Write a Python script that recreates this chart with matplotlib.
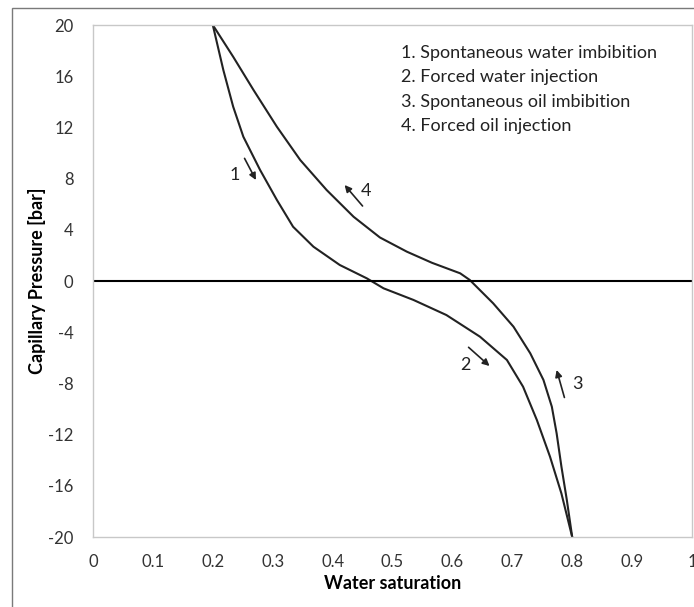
import matplotlib
matplotlib.use("Agg")
import matplotlib.pyplot as plt
from matplotlib.patches import Rectangle

plt.rcParams['font.family'] = ['Lato', 'DejaVu Sans']
plt.rcParams['axes.unicode_minus'] = False

# Curve 1-2: spontaneous water imbibition -> forced water injection
sw_water = [0.200, 0.2176, 0.234, 0.251, 0.279, 0.307, 0.334, 0.368, 0.412, 0.457,
            0.485, 0.535, 0.590, 0.646, 0.691, 0.718, 0.741, 0.763, 0.782, 0.800]
pc_water = [20.0, 16.48, 13.62, 11.27, 8.67, 6.33, 4.24, 2.68, 1.25, 0.21,
            -0.57, -1.48, -2.66, -4.35, -6.17, -8.26, -10.86, -13.73, -16.6, -20.0]

# Curve 3-4: spontaneous oil imbibition -> forced oil injection
sw_oil = [0.200, 0.234, 0.268, 0.307, 0.346, 0.390, 0.435, 0.479, 0.524, 0.566,
          0.613, 0.629, 0.668, 0.702, 0.730, 0.752, 0.766, 0.774, 0.782, 0.791, 0.800]
pc_oil = [20.0, 17.52, 14.92, 12.05, 9.45, 7.11, 5.02, 3.40, 2.29, 1.42,
          0.60, 0.08, -1.74, -3.57, -5.65, -7.73, -9.82, -11.9, -14.5, -17.1, -20.0]

x_ticks = [0, 0.1, 0.2, 0.3, 0.4, 0.5, 0.6, 0.7, 0.8, 0.9, 1]
x_tick_labels = ['0', '0.1', '0.2', '0.3', '0.4', '0.5', '0.6', '0.7', '0.8', '0.9', '1']
y_ticks = [20, 16, 12, 8, 4, 0, -4, -8, -12, -16, -20]

legend_lines = ['1. Spontaneous water imbibition', '2. Forced water injection',
                '3. Spontaneous oil imbibition', '4. Forced oil injection']

# arrows: (label, label_x, label_y, tail_x, tail_y, tip_x, tip_y)
arrows = [('1', 0.237, 8.3, 0.253, 9.58, 0.272, 7.89),
          ('4', 0.455, 7.0, 0.450, 5.86, 0.420, 7.5),
          ('2', 0.621, -6.6, 0.627, -5.18, 0.662, -6.64),
          ('3', 0.808, -8.05, 0.787, -9.1, 0.774, -6.95)]

W, H = 694, 607
fig = plt.figure(figsize=(W / 100, H / 100), dpi=100)
ax = fig.add_axes([93 / W, 1 - 537 / H, (692 - 93) / W, (537 - 25) / H])

# figure border
fig.patches.append(Rectangle((12 / W, -0.1), 1.2, 1 - 8 / H + 0.1, transform=fig.transFigure,
                             fill=False, edgecolor='#7a7a7a', linewidth=1.0))

ax.plot(sw_water, pc_water, color='#222222', linewidth=1.5, solid_joinstyle='round')
ax.plot(sw_oil, pc_oil, color='#222222', linewidth=1.5, solid_joinstyle='round')
ax.axhline(0, color='black', linewidth=1.5)

ax.set_xlim(0, 1)
ax.set_ylim(-20, 20)
ax.set_xticks(x_ticks)
ax.set_xticklabels(x_tick_labels)
ax.set_yticks(y_ticks)
ax.tick_params(length=0, labelsize=12, colors='#333333')
ax.tick_params(axis='x', pad=12)
ax.tick_params(axis='y', pad=14)
for s in ax.spines.values():
    s.set_color('#c8c8c8')
    s.set_linewidth(1.0)

ax.set_xlabel('Water saturation', fontsize=13, fontweight='bold', labelpad=4)
ax.set_ylabel('Capillary Pressure [bar]', fontsize=13, fontweight='bold')
ax.yaxis.set_label_coords(-0.078, 0.5)

for i, t in enumerate(legend_lines):
    ax.text(0.514, 0.945 - i * 0.0473, t, transform=ax.transAxes, fontsize=13,
            ha='left', va='center', color='#222222')

for lab, lx, ly, tx, ty, hx, hy in arrows:
    ax.annotate('', xy=(hx, hy), xytext=(tx, ty),
                arrowprops=dict(arrowstyle='-|>', color='#222222', lw=1.2,
                                mutation_scale=10, shrinkA=0, shrinkB=0))
    ax.text(lx, ly, lab, fontsize=13, ha='center', va='center', color='#222222')

fig.savefig('out.png', dpi=100)
